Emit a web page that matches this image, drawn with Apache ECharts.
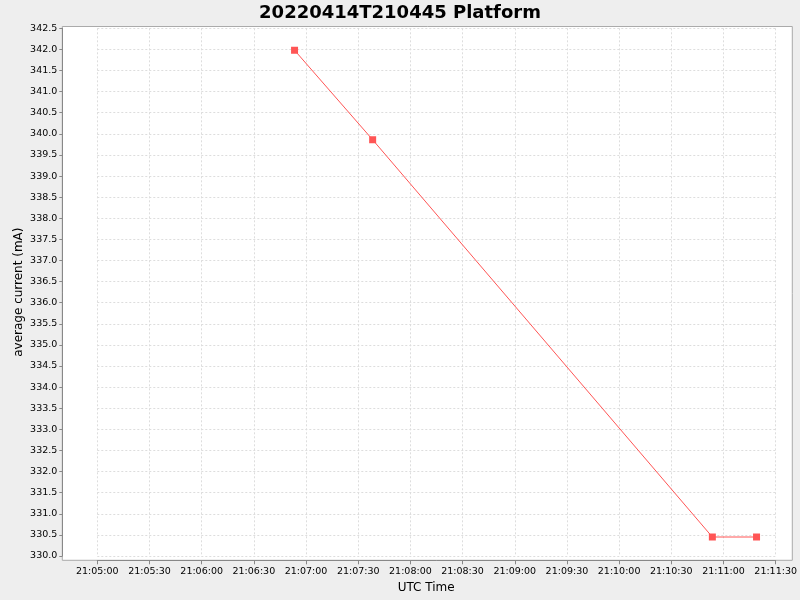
<!DOCTYPE html>
<html>
<head>
<meta charset="utf-8">
<script src="https://cdn.jsdelivr.net/npm/echarts@6/dist/echarts.min.js"></script>
<style>
html,body{margin:0;padding:0;background:#eeeeee;}
#chart{width:800px;height:600px;}
</style>
</head>
<body>
<div id="chart"></div>
<script>
// Data
var chartTitle = '20220414T210445 Platform';
var xAxisTitle = 'UTC Time';
var yAxisTitle = 'average current (mA)';
var times = ['21:06:53.4', '21:07:38.3', '21:10:53.6', '21:11:19.0'];
var currents = [341.98, 339.86, 330.45, 330.45];
var xStart = '21:05:00';
var xEnd = '21:11:30';
var yMin = 330.0;
var yMax = 342.5;

function toSec(s) {
  var p = s.split(':');
  return (+p[0]) * 3600 + (+p[1]) * 60 + parseFloat(p[2]);
}
function pad(n) { return (n < 10 ? '0' : '') + n; }
function fmt(v) {
  v = Math.round(v);
  var h = Math.floor(v / 3600), m = Math.floor((v % 3600) / 60), s = v % 60;
  return pad(h) + ':' + pad(m) + ':' + pad(s);
}

var seriesData = times.map(function (t, i) { return [toSec(t), currents[i]]; });

var chart = echarts.init(document.getElementById('chart'), null, {renderer: 'canvas'});
var FONT = 'DejaVu Sans';
var option = {
  backgroundColor: '#eeeeee',
  animation: false,
  textStyle: {fontFamily: FONT},
  title: {
    text: chartTitle,
    left: 'center',
    top: -1,
    textStyle: {fontFamily: FONT, fontSize: 18, fontWeight: 'bold', color: '#000'}
  },
  graphic: [{
    type: 'rect',
    z: -10,
    silent: true,
    shape: {x: 62.3, y: 26.5, width: 730, height: 533.8},
    style: {fill: '#ffffff', stroke: '#aaaaaa', lineWidth: 1}
  }],
  grid: {left: 97.3, right: 22.7, top: 28.3, bottom: 44, containLabel: false},
  xAxis: {
    type: 'value',
    min: toSec(xStart),
    max: toSec(xEnd),
    interval: 30,
    offset: 4.3,
    name: xAxisTitle,
    nameLocation: 'middle',
    nameGap: 21.5,
    nameMoveOverlap: false,
    nameTextStyle: {fontFamily: FONT, fontSize: 12, color: '#000', padding: [0, 20.6, 0, 0]},
    axisLine: {show: true, lineStyle: {color: '#888888', width: 1}},
    axisTick: {show: true, length: 4, lineStyle: {color: '#888888'}},
    axisLabel: {fontFamily: FONT, fontSize: 9.5, color: '#000', margin: 6, formatter: fmt},
    splitLine: {show: true, lineStyle: {color: '#dddddd', type: [2, 2], width: 1}}
  },
  yAxis: {
    type: 'value',
    min: yMin,
    max: yMax,
    interval: 0.5,
    offset: 35,
    name: yAxisTitle,
    nameLocation: 'middle',
    nameGap: 37,
    nameMoveOverlap: false,
    nameRotate: 90,
    nameTextStyle: {fontFamily: FONT, fontSize: 12, color: '#000'},
    axisLine: {show: true, lineStyle: {color: '#888888', width: 1}},
    axisTick: {show: true, length: 3, lineStyle: {color: '#888888'}},
    axisLabel: {fontFamily: FONT, fontSize: 9.5, color: '#000', margin: 5,
      formatter: function (v) { return v.toFixed(1); }},
    splitLine: {show: true, lineStyle: {color: '#dddddd', type: [2, 2], width: 1}}
  },
  series: [{
    type: 'line',
    data: seriesData,
    symbol: 'rect',
    symbolSize: 7,
    showAllSymbol: true,
    lineStyle: {color: '#ff5555', width: 1},
    itemStyle: {color: '#ff5555'},
    clip: false
  }]
};
chart.setOption(option);
</script>
</body>
</html>
